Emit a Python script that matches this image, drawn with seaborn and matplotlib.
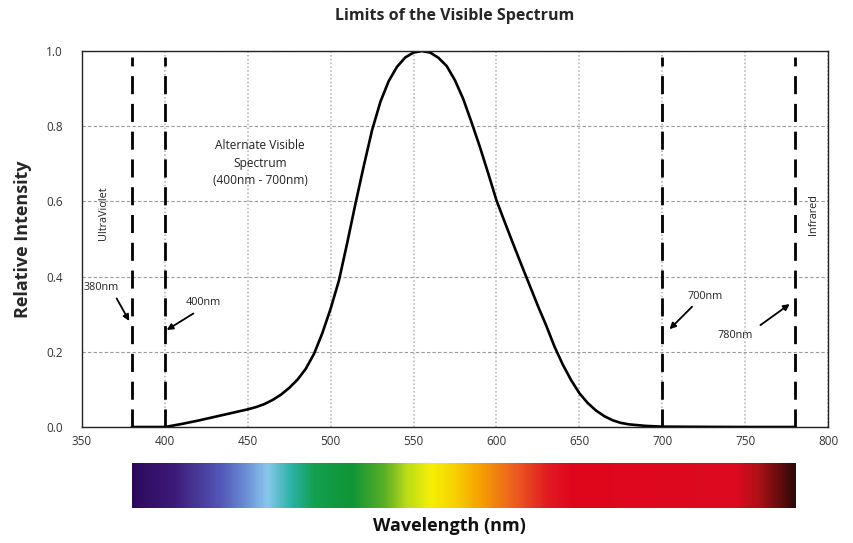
import numpy as np
import pandas as pd
import matplotlib
matplotlib.use("Agg")
import matplotlib.pyplot as plt
from matplotlib.colors import LinearSegmentedColormap
from matplotlib.ticker import MultipleLocator
import seaborn as sns

# ---- data ----
wavelength = [380, 390, 400, 410, 420, 430, 440, 450, 455, 460, 465, 470, 475,
              480, 485, 490, 495, 500, 505, 510, 515, 520, 525, 530, 535, 540,
              545, 550, 555, 560, 565, 570, 575, 580, 585, 590, 595, 600, 605,
              610, 615, 620, 625, 630, 635, 640, 645, 650, 655, 660, 665, 670,
              675, 680, 690, 700, 720, 750, 780]
intensity = [0.0, 0.0, 0.0, 0.008, 0.017, 0.027, 0.037, 0.047, 0.053, 0.061,
             0.072, 0.086, 0.104, 0.126, 0.155, 0.195, 0.25, 0.315, 0.39,
             0.49, 0.595, 0.695, 0.79, 0.865, 0.92, 0.958, 0.983, 0.996, 1.0,
             0.996, 0.982, 0.96, 0.922, 0.872, 0.81, 0.745, 0.675, 0.603,
             0.545, 0.488, 0.432, 0.377, 0.322, 0.27, 0.214, 0.166, 0.125,
             0.09, 0.064, 0.044, 0.029, 0.018, 0.011, 0.007, 0.003, 0.001,
             0.0005, 0.0, 0.0]
limit_lines = [380, 400, 700, 780]
x_ticks = [350, 400, 450, 500, 550, 600, 650, 700, 750, 800]
y_ticks = [0.0, 0.2, 0.4, 0.6, 0.8, 1.0]

spectrum_nm = [380, 404, 432, 447, 461, 475, 489, 512, 532, 546, 560, 574,
               589, 608, 631, 645, 745, 759, 780]
spectrum_colors = ["#2d0a5e", "#3c1a78", "#5255b5", "#6a8ad5", "#88c8ec",
                   "#2bb3a8", "#15a050", "#0f9535", "#5aaf25", "#c0dd15",
                   "#f5ef05", "#f7d200", "#f5a300", "#ee6620", "#e11a22",
                   "#e0061c", "#dc0a20", "#a81216", "#2e0a08"]

df = pd.DataFrame({"Wavelength": wavelength, "Intensity": intensity})

sns.set_theme(style="white")
plt.rcParams["font.family"] = ["Open Sans", "DejaVu Sans"]

fig = plt.figure(figsize=(8.54, 5.43), dpi=100)
ax = fig.add_axes([0.096, 0.2136, 0.8736, 0.6924])

sns.lineplot(data=df, x="Wavelength", y="Intensity", ax=ax, color="black",
             linewidth=1.9)

for x in limit_lines:
    ax.axvline(x, color="black", linewidth=2.0, linestyle=(0, (6.5, 3.5)),
               ymax=0.985, zorder=3)

ax.set_xlim(350, 800)
ax.set_ylim(0, 1.0)
ax.set_xticks(x_ticks)
ax.set_yticks(y_ticks)
ax.set_yticklabels([f"{v:.1f}" for v in y_ticks])
ax.yaxis.set_minor_locator(MultipleLocator(0.05))
ax.tick_params(axis="y", which="both", direction="in", length=4, width=0.8,
               color="#444444", labelsize=8.5, labelcolor="#333333", pad=14)
ax.tick_params(axis="x", which="major", length=0, labelsize=8.5,
               labelcolor="#333333", pad=6)

ax.yaxis.grid(True, color="#9a9a9a", linestyle=(0, (3, 2)), linewidth=0.8)
ax.xaxis.grid(True, color="#b0b0b0", linestyle=(0, (1, 1.5)), linewidth=1.1)
ax.set_axisbelow(True)
for s in ax.spines.values():
    s.set_color("#222222")
    s.set_linewidth(1.0)

ax.set_xlabel("")
ax.set_ylabel("Relative Intensity", fontsize=13, fontweight="bold", labelpad=10)
ax.set_title("Limits of the Visible Spectrum", fontsize=11.5, fontweight="bold",
             pad=22)

txt_kw = dict(fontsize=7.8, color="#222222")
ax.text(362.7, 0.569, "UltraViolet", rotation=90, ha="center", va="center", **txt_kw)
ax.text(791, 0.564, "Infrared", rotation=90, ha="center", va="center", **txt_kw)
ax.text(457.4, 0.702, "Alternate Visible\nSpectrum\n(400nm - 700nm)",
        ha="center", va="center", linespacing=1.45, fontsize=8.6, color="#222222")

arrow = dict(arrowstyle="-|>", color="black", lw=1.3, mutation_scale=9,
             shrinkA=0, shrinkB=0)
labels = [("380nm", (361.3, 0.370), (370.9, 0.342), (378.5, 0.282)),
          ("400nm", (423.0, 0.332), (417.2, 0.302), (401.1, 0.258)),
          ("700nm", (725.6, 0.346), (718.0, 0.320), (704.4, 0.260)),
          ("780nm", (743.9, 0.243), (759.2, 0.271), (776.9, 0.327))]
for lab, tpos, tail, head in labels:
    ax.text(tpos[0], tpos[1], lab, ha="center", va="center", **txt_kw)
    ax.annotate("", xy=head, xytext=tail, arrowprops=arrow)

# spectrum bar
cax = fig.add_axes([0.096, 0.0645, 0.8736, 0.0829])
pos = [(w - spectrum_nm[0]) / (spectrum_nm[-1] - spectrum_nm[0]) for w in spectrum_nm]
cmap = LinearSegmentedColormap.from_list("spec", list(zip(pos, spectrum_colors)))
grad = np.linspace(0, 1, 800)[None, :]
cax.imshow(grad, aspect="auto", cmap=cmap,
           extent=(spectrum_nm[0], spectrum_nm[-1], 0, 1))
cax.set_xlim(350, 800)
cax.set_ylim(0, 1)
cax.axis("off")

fig.text(0.5265, 0.031, "Wavelength (nm)", ha="center", va="center",
         fontsize=13, fontweight="bold", color="#111111")

fig.savefig("out.png", dpi=100, facecolor="white")
